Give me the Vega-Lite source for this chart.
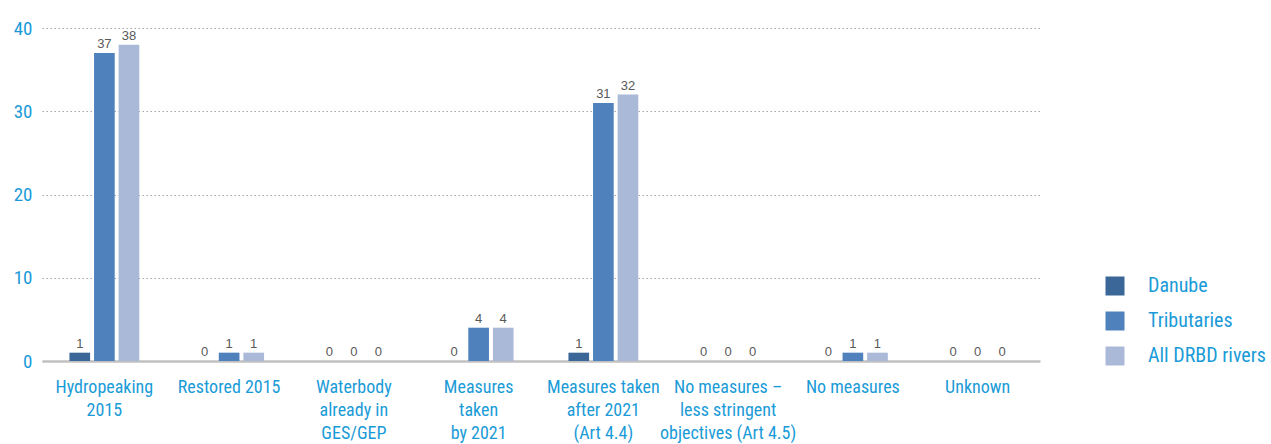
{
  "$schema": "https://vega.github.io/schema/vega-lite/v6.json",
  "autosize": {"type": "none"},
  "padding": {"left": 42, "top": 28, "right": 231, "bottom": 83},
  "width": 998,
  "height": 333,
  "background": "white",
  "config": {
    "view": {"stroke": null},
    "font": "Roboto Condensed, Roboto, sans-serif"
  },
  "data": {
    "values": [
      {"category": "Hydropeaking|2015", "series": "Danube", "value": 1},
      {"category": "Hydropeaking|2015", "series": "Tributaries", "value": 37},
      {"category": "Hydropeaking|2015", "series": "All DRBD rivers", "value": 38},
      {"category": "Restored 2015", "series": "Danube", "value": 0},
      {"category": "Restored 2015", "series": "Tributaries", "value": 1},
      {"category": "Restored 2015", "series": "All DRBD rivers", "value": 1},
      {"category": "Waterbody|already in|GES/GEP", "series": "Danube", "value": 0},
      {"category": "Waterbody|already in|GES/GEP", "series": "Tributaries", "value": 0},
      {"category": "Waterbody|already in|GES/GEP", "series": "All DRBD rivers", "value": 0},
      {"category": "Measures|taken|by 2021", "series": "Danube", "value": 0},
      {"category": "Measures|taken|by 2021", "series": "Tributaries", "value": 4},
      {"category": "Measures|taken|by 2021", "series": "All DRBD rivers", "value": 4},
      {"category": "Measures taken|after 2021|(Art 4.4)", "series": "Danube", "value": 1},
      {"category": "Measures taken|after 2021|(Art 4.4)", "series": "Tributaries", "value": 31},
      {"category": "Measures taken|after 2021|(Art 4.4)", "series": "All DRBD rivers", "value": 32},
      {"category": "No measures –|less stringent|objectives (Art 4.5)", "series": "Danube", "value": 0},
      {"category": "No measures –|less stringent|objectives (Art 4.5)", "series": "Tributaries", "value": 0},
      {"category": "No measures –|less stringent|objectives (Art 4.5)", "series": "All DRBD rivers", "value": 0},
      {"category": "No measures", "series": "Danube", "value": 0},
      {"category": "No measures", "series": "Tributaries", "value": 1},
      {"category": "No measures", "series": "All DRBD rivers", "value": 1},
      {"category": "Unknown", "series": "Danube", "value": 0},
      {"category": "Unknown", "series": "Tributaries", "value": 0},
      {"category": "Unknown", "series": "All DRBD rivers", "value": 0}
    ]
  },
  "encoding": {
    "x": {
      "field": "category",
      "type": "nominal",
      "sort": null,
      "scale": {"paddingInner": 0.44, "paddingOuter": 0.22},
      "axis": {
        "title": null,
        "labelAngle": 0,
        "labelExpr": "split(datum.label, '|')",
        "labelFontSize": 18,
        "labelColor": "#1a9bd7",
        "labelLineHeight": 23,
        "labelPadding": 17,
        "ticks": false,
        "domainColor": "#c0c0c0",
        "domainWidth": 2.5,
        "labelLimit": 200
      }
    },
    "xOffset": {
      "field": "series",
      "type": "nominal",
      "sort": ["Danube", "Tributaries", "All DRBD rivers"],
      "scale": {"paddingInner": 0.16, "paddingOuter": 0}
    },
    "y": {
      "field": "value",
      "type": "quantitative",
      "scale": {"domain": [0, 40]},
      "axis": {
        "title": null,
        "values": [0, 10, 20, 30, 40],
        "labelFontSize": 19,
        "labelColor": "#1a9bd7",
        "labelPadding": 10,
        "ticks": false,
        "domain": false,
        "gridColor": "#a6a6a6",
        "gridDash": [1.5, 2.5],
        "gridWidth": 1.2
      }
    }
  },
  "layer": [
    {
      "mark": {"type": "bar"},
      "encoding": {
        "color": {
          "field": "series",
          "type": "nominal",
          "sort": ["Danube", "Tributaries", "All DRBD rivers"],
          "scale": {
            "domain": ["Danube", "Tributaries", "All DRBD rivers"],
            "range": ["#3b6698", "#4f81bd", "#aab9d8"]
          },
          "legend": {
            "title": null,
            "orient": "none",
            "legendX": 1063,
            "legendY": 248,
            "symbolType": "square",
            "symbolSize": 361,
            "symbolStrokeWidth": 0,
            "labelFontSize": 20,
            "labelColor": "#1a9bd7",
            "labelOffset": 23,
            "rowPadding": 15
          }
        }
      }
    },
    {
      "mark": {"type": "text", "baseline": "bottom", "dy": -2, "fontSize": 13, "color": "#595959", "font": "Liberation Sans"},
      "encoding": {
        "text": {"field": "value", "type": "quantitative"}
      }
    }
  ]
}
